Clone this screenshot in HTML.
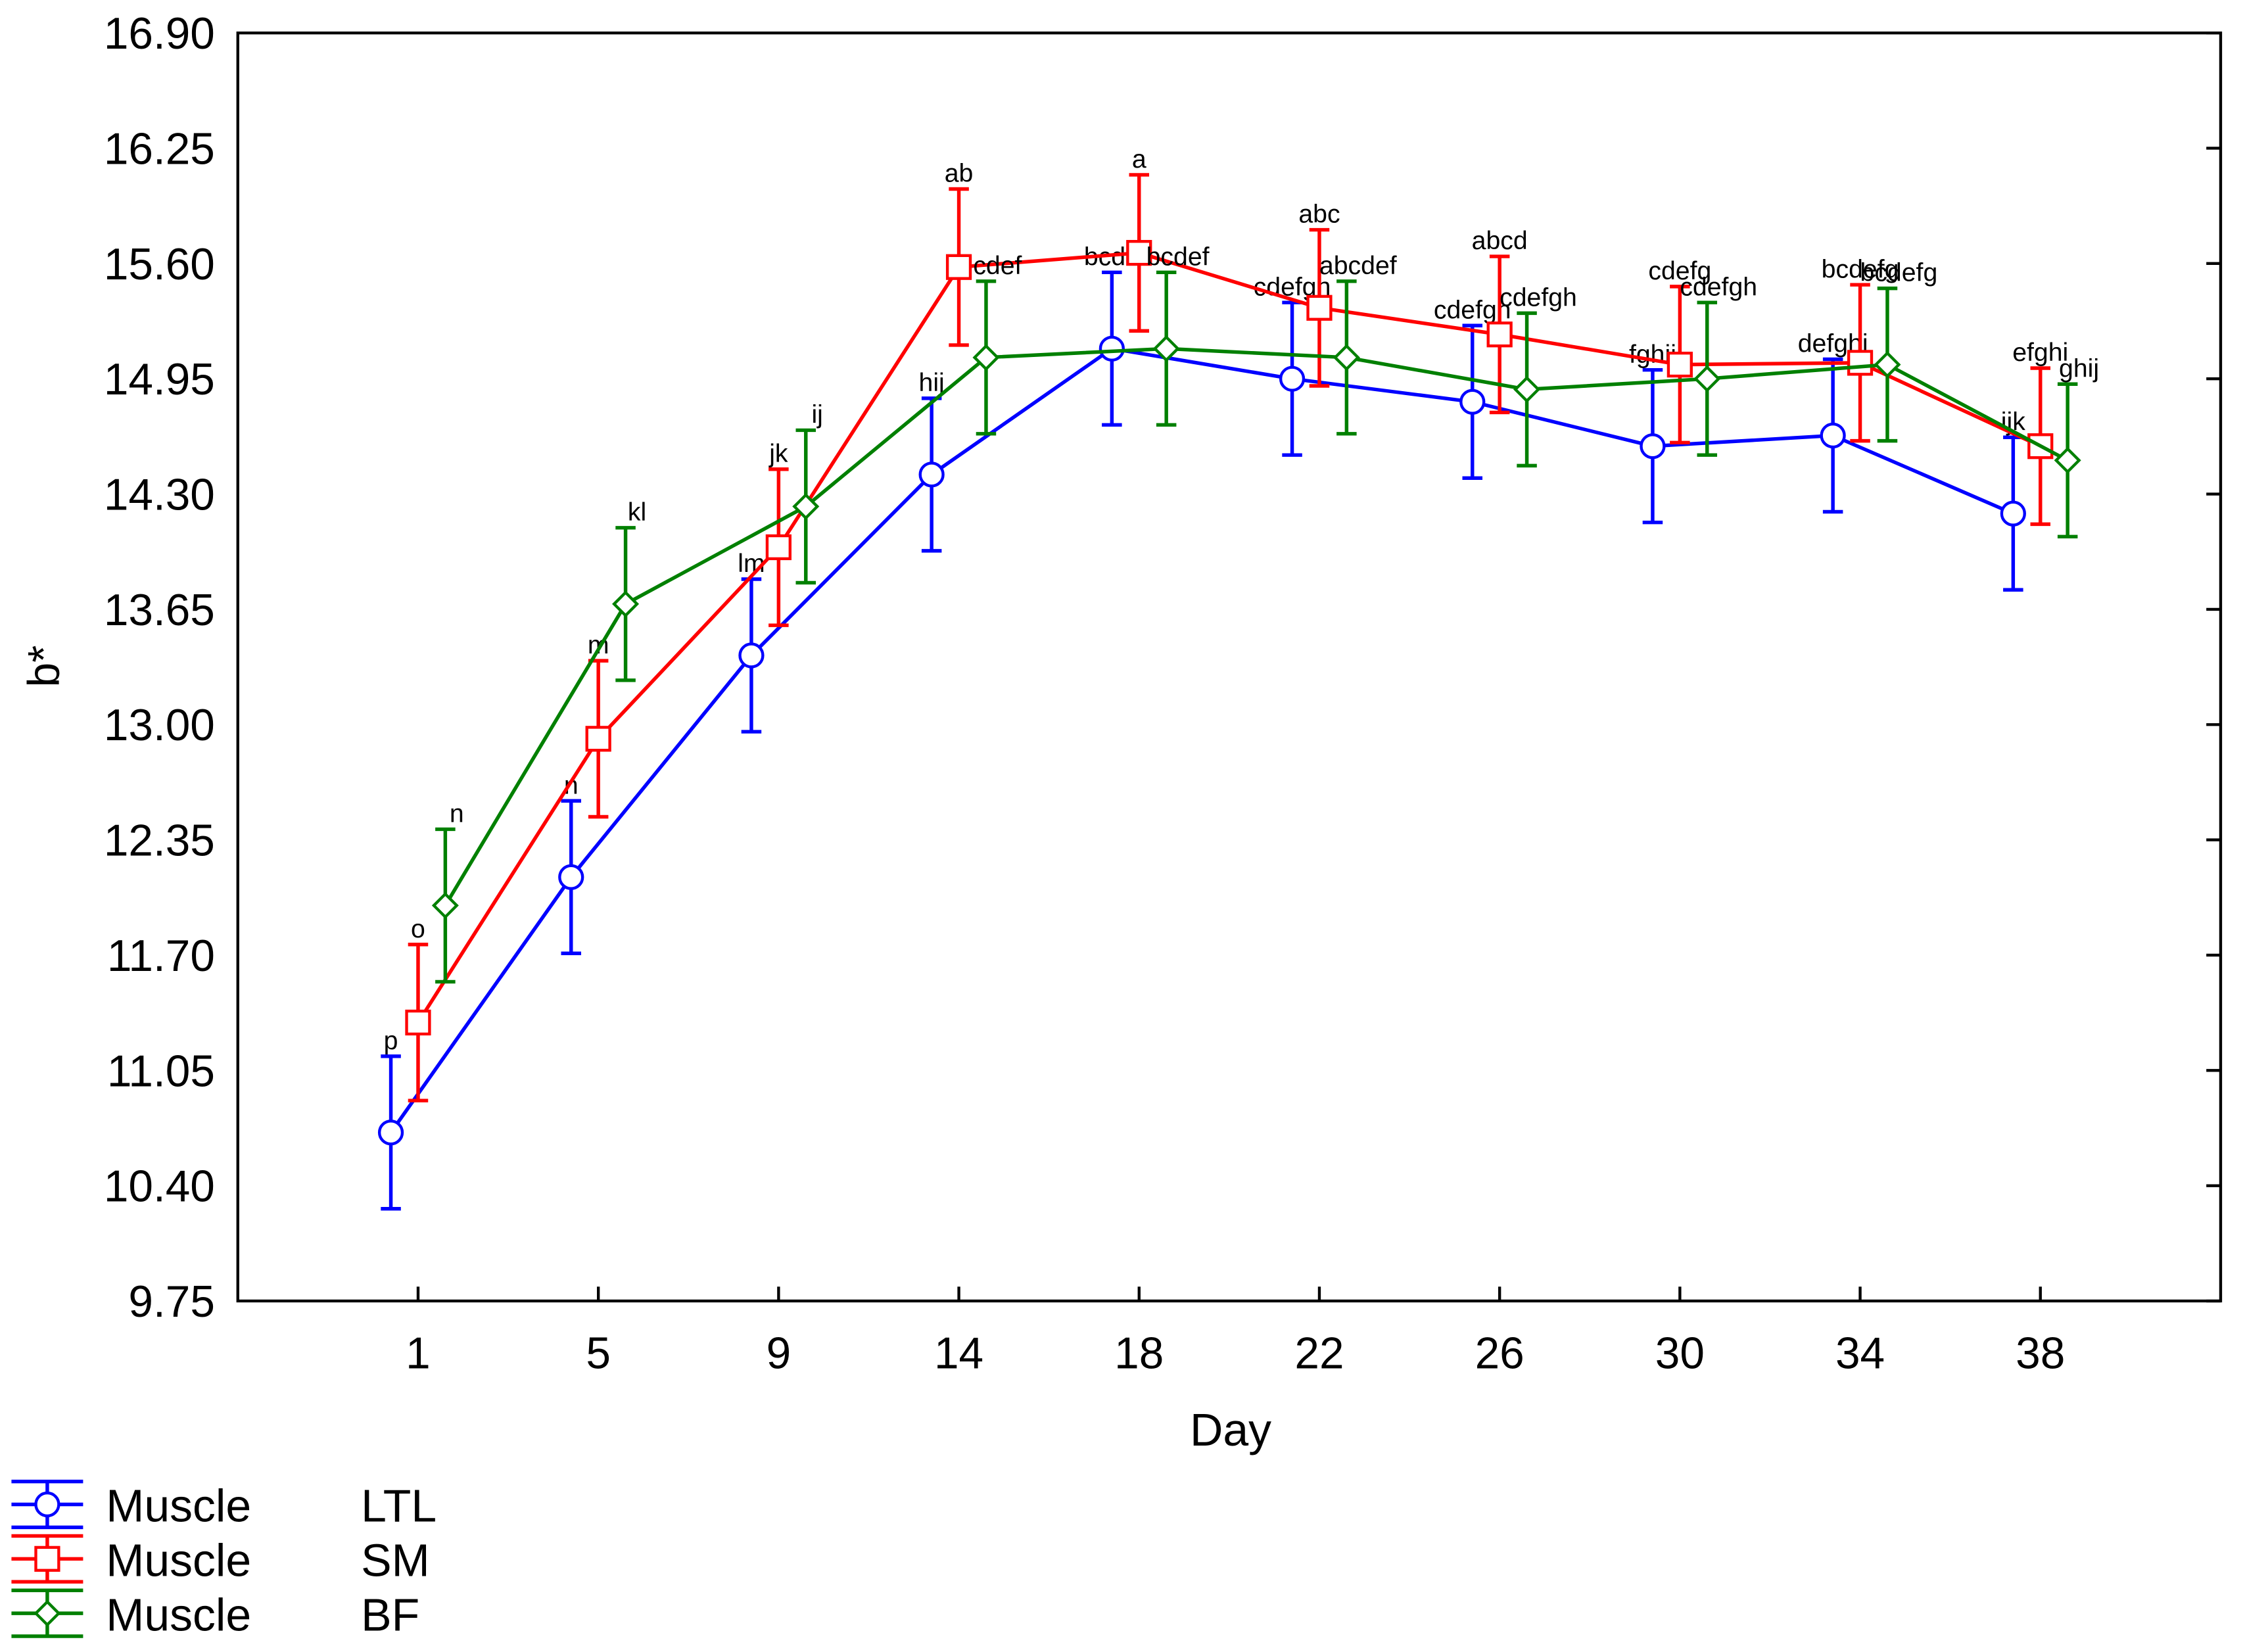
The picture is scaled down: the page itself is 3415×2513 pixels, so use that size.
<!DOCTYPE html>
<html><head><meta charset="utf-8"><style>html,body{margin:0;padding:0;background:#fff}svg{display:block}</style></head>
<body>
<svg id="chart" xmlns="http://www.w3.org/2000/svg" width="3415" height="2513" viewBox="0 0 1567 1153" preserveAspectRatio="none" font-family="'Liberation Sans', Arial, sans-serif">
<rect x="0" y="0" width="1567" height="1153" fill="#fff"/>
<rect x="166" y="23" width="1384" height="885" fill="none" stroke="#000" stroke-width="2"/>
<g id="axes"></g>
<g id="series"></g>
<text x="0" y="0" transform="translate(41,465) rotate(-90)" font-size="31" text-anchor="middle">b*</text>
<text x="859" y="1009" font-size="32" text-anchor="middle">Day</text>
<g id="legend"></g>
</svg>
<script>
const days = ["1","5","9","14","18","22","26","30","34","38"];
const yTicks = [9.75,10.40,11.05,11.70,12.35,13.00,13.65,14.30,14.95,15.60,16.25,16.90];
const ltl = [10.70,12.14,13.39,14.41,15.12,14.95,14.82,14.57,14.63,14.19];
const ltlErr = [0.43,0.43,0.43,0.43,0.43,0.43,0.43,0.43,0.43,0.43];
const sm = [11.32,12.92,14.00,15.58,15.66,15.35,15.20,15.03,15.04,14.57];
const smErr = [0.44,0.44,0.44,0.44,0.44,0.44,0.44,0.44,0.44,0.44];
const bf = [11.98,13.68,14.23,15.07,15.12,15.07,14.89,14.95,15.03,14.49];
const bfErr = [0.43,0.43,0.43,0.43,0.43,0.43,0.43,0.43,0.43,0.43];
const ltlLabels = ["p","n","lm","hij","bcde","cdefgh","cdefgh","fghij","defghi","ijk"];
const smLabels = ["o","m","jk","ab","a","abc","abcd","cdefg","bcdefg","efghi"];
const bfLabels = ["n","kl","ij","cdef","bcdef","abcdef","cdefgh","cdefgh","bcdefg","ghij"];

const NS="http://www.w3.org/2000/svg";
const L=166,R=1550,T=23,B=908,ymin=9.75,ymax=16.90;
const y=v=>B-(v-ymin)/(ymax-ymin)*(B-T);
const x=i=>L+(R-L)/(days.length+1)*(i+1);
function mk(tag,attrs,parent,txt){const e=document.createElementNS(NS,tag);for(const k in attrs)e.setAttribute(k,attrs[k]);if(txt!==undefined)e.textContent=txt;parent.appendChild(e);return e;}
const axes=document.getElementById('axes');
yTicks.forEach(v=>{
  const t=mk('text',{x:150,y:y(v)+11,'font-size':31,'text-anchor':'end'},axes,v.toFixed(2));
  
  
  mk('line',{x1:R-10,x2:R,y1:y(v),y2:y(v),stroke:'#000','stroke-width':2},axes);
});
days.forEach((d,i)=>{
  const t=mk('text',{x:x(i),y:955,'font-size':31,'text-anchor':'middle'},axes,d);
  
  
  mk('line',{x1:x(i),x2:x(i),y1:B,y2:B-10,stroke:'#000','stroke-width':2},axes);
});
function marker(g,type,cx,cy,color){
  if(type==='circle')return mk('circle',{cx,cy,r:8,fill:'#fff',stroke:color,'stroke-width':2},g);
  if(type==='square')return mk('rect',{x:cx-8,y:cy-8,width:16,height:16,fill:'#fff',stroke:color,'stroke-width':2},g);
  return mk('polygon',{points:`${cx},${cy-8} ${cx+8},${cy} ${cx},${cy+8} ${cx-8},${cy}`,fill:'#fff',stroke:color,'stroke-width':2},g);
}
const seriesG=document.getElementById('series');
const defs=[
  {name:'ltl',vals:ltl,err:ltlErr,labs:ltlLabels,color:'#0000ff',off:-19,m:'circle',lo:0},
  {name:'sm',vals:sm,err:smErr,labs:smLabels,color:'#ff0000',off:0,m:'square',lo:0},
  {name:'bf',vals:bf,err:bfErr,labs:bfLabels,color:'#008000',off:19,m:'diamond',lo:8}
];
defs.forEach(s=>{
  const g=mk('g',{},seriesG);
  
  
  const pts=s.vals.map((v,i)=>(x(i)+s.off)+','+y(v)).join(' ');
  const pl=mk('polyline',{points:pts,fill:'none',stroke:s.color,'stroke-width':2.5},g);
  
  
  s.vals.forEach((v,i)=>{
    const cx=x(i)+s.off, top=y(v+s.err[i]), bot=y(v-s.err[i]);
    const eb=mk('path',{d:`M${cx},${top}V${bot}M${cx-7},${top}H${cx+7}M${cx-7},${bot}H${cx+7}`,stroke:s.color,'stroke-width':2.5,fill:'none'},g);
    
    
    const mm=marker(g,s.m,cx,y(v),s.color);
    
    
    const lt=mk('text',{x:cx+s.lo,y:top-5,'font-size':18,'text-anchor':'middle'},g,s.labs[i]);
    
    
  });
});
const lg=document.getElementById('legend');


[["LTL",'#0000ff','circle'],["SM",'#ff0000','square'],["BF",'#008000','diamond']].forEach((e,i)=>{
  const yy=1050+38*i;
  const g=mk('g',{},lg);
  
  
  mk('line',{x1:8,x2:58,y1:yy,y2:yy,stroke:e[1],'stroke-width':2.5},g);
  mk('line',{x1:33,x2:33,y1:yy-16,y2:yy+16,stroke:e[1],'stroke-width':2.5},g);
  mk('line',{x1:8,x2:58,y1:yy-16,y2:yy-16,stroke:e[1],'stroke-width':2.5},g);
  mk('line',{x1:8,x2:58,y1:yy+16,y2:yy+16,stroke:e[1],'stroke-width':2.5},g);
  marker(g,e[2],33,yy,e[1]);
  mk('text',{x:74,y:yy+12,'font-size':32},g,'Muscle');
  mk('text',{x:252,y:yy+12,'font-size':32},g,e[0]);
});
</script>
</body></html>
